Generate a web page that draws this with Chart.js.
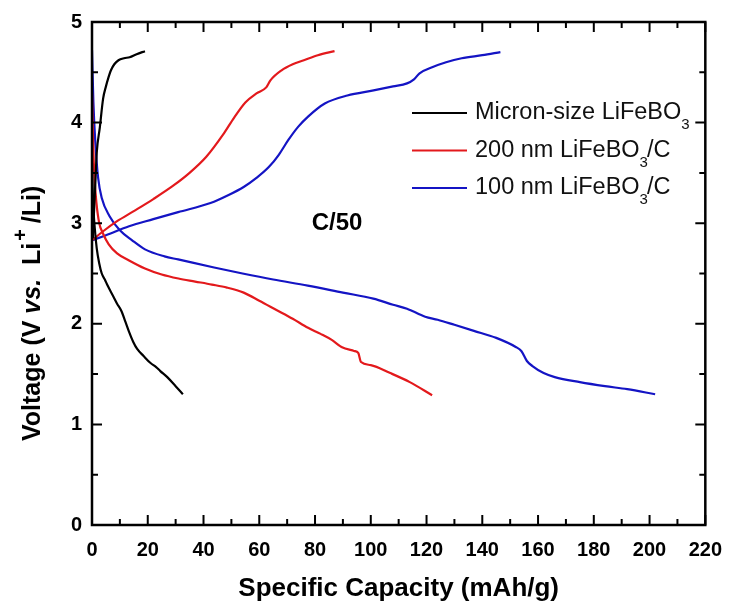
<!DOCTYPE html>
<html>
<head>
<meta charset="utf-8">
<title>LiFeBO3 charge / discharge</title>
<script src="https://cdn.jsdelivr.net/npm/chart.js@4.4.1/dist/chart.umd.min.js"></script>
<style>
  html, body { margin: 0; padding: 0; background: #fff; }
  #wrap { width: 735px; height: 604px; position: relative; }
</style>
</head>
<body>
<div id="wrap"><canvas id="cv"></canvas></div>
<script>
// ── Data: capacity (mAh/g) / voltage (V) ─────────────────────────
// Micron-size LiFeBO3
const micronChargeCap = [0.3, 0.7, 1.2, 1.7, 2.8, 4.0, 5.0, 5.7, 6.8, 8.0, 9.5, 11.5, 13.5, 16, 19];
const micronChargeV   = [2.85, 3.1, 3.4, 3.7, 3.95, 4.24, 4.36, 4.43, 4.52, 4.58, 4.62, 4.64, 4.65, 4.68, 4.71];
const micronDischCap  = [0, 0.4, 1.0, 1.7, 2.6, 3.5, 4.6, 5.6, 7.7, 9, 10.5, 12, 13.3, 14.8, 16.2, 18.5, 21, 23, 24.5, 27, 30, 32.6];
const micronDischV    = [3.6, 3.2, 2.95, 2.75, 2.6, 2.5, 2.44, 2.38, 2.27, 2.2, 2.13, 2.02, 1.92, 1.82, 1.75, 1.68, 1.61, 1.57, 1.53, 1.47, 1.38, 1.3];

// 200 nm LiFeBO3/C
const nm200ChargeCap = [0, 4, 9, 15, 22, 29, 35, 41, 47, 51, 55, 59, 62.5, 64, 68, 72, 76, 81, 87];
const nm200ChargeV   = [2.83, 2.92, 3.02, 3.12, 3.24, 3.37, 3.5, 3.66, 3.88, 4.05, 4.2, 4.29, 4.35, 4.42, 4.52, 4.58, 4.62, 4.67, 4.71];
const nm200DischCap  = [0, 0.4, 0.9, 1.6, 2.6, 3.9, 6, 9, 13.3, 19, 25, 31, 37, 43, 48.4, 54.4, 60, 66, 72, 77.5, 82, 86, 89.5, 94, 95.5, 96.5, 100, 107, 114, 122];
const nm200DischV    = [4.3, 3.8, 3.45, 3.2, 3.0, 2.9, 2.79, 2.7, 2.63, 2.55, 2.49, 2.45, 2.42, 2.39, 2.36, 2.31, 2.23, 2.14, 2.05, 1.96, 1.9, 1.84, 1.77, 1.73, 1.71, 1.62, 1.59, 1.51, 1.42, 1.29];

// 100 nm LiFeBO3/C
const nm100ChargeCap = [0, 5, 13.3, 22, 30.9, 42.5, 49, 54.4, 59, 63.5, 67, 70.5, 74, 77.5, 83.5, 91.6, 101, 108, 113, 115.5, 117.5, 122, 127, 132.6, 140, 146.5];
const nm100ChargeV   = [2.83, 2.88, 2.97, 3.04, 3.11, 3.2, 3.28, 3.36, 3.45, 3.56, 3.68, 3.83, 3.96, 4.06, 4.19, 4.27, 4.32, 4.36, 4.39, 4.43, 4.49, 4.55, 4.6, 4.64, 4.67, 4.7];
const nm100DischCap  = [0, 0.5, 1.2, 2.2, 3.5, 6.3, 10, 14.4, 19, 26, 30.9, 43.8, 54, 65, 77.4, 90, 100.9, 108, 113, 119.5, 124, 130, 137, 145, 152, 154, 156, 158, 162, 166, 175, 184, 192, 202];
const nm100DischV    = [4.72, 4.2, 3.8, 3.45, 3.25, 3.07, 2.93, 2.83, 2.74, 2.67, 2.64, 2.56, 2.5, 2.44, 2.38, 2.31, 2.25, 2.19, 2.15, 2.07, 2.04, 1.99, 1.93, 1.86, 1.77, 1.73, 1.63, 1.58, 1.51, 1.47, 1.42, 1.38, 1.35, 1.3];

// axis ticks
const xTicks = [0, 20, 40, 60, 80, 100, 120, 140, 160, 180, 200, 220];
const yTicks = [0, 1, 2, 3, 4, 5];

const SERIES = [
  { label: 'Micron-size LiFeBO', sub: '3', tail: '',   color: '#000000' },
  { label: '200 nm LiFeBO',      sub: '3', tail: '/C', color: '#e3191c' },
  { label: '100 nm LiFeBO',      sub: '3', tail: '/C', color: '#1414c4' },
];

const FONT = '"Liberation Sans", Arial, Helvetica, sans-serif';

function pts(xs, ys) { return xs.map((x, i) => ({ x: x, y: ys[i] })); }

function curve(xs, ys, color) {
  return {
    data: pts(xs, ys),
    borderColor: color,
    borderWidth: 2.2,
    pointRadius: 0,
    cubicInterpolationMode: 'monotone',
    fill: false,
  };
}

// ── Plugins ──────────────────────────────────────────────────────

// frame + inward major/minor ticks on all four sides
const frameTicks = {
  id: 'frameTicks',
  afterDraw(chart) {
    const { ctx, chartArea: a, scales } = chart;
    const sx = scales.x, sy = scales.y;
    ctx.save();
    ctx.strokeStyle = '#000';
    ctx.lineWidth = 2.5;
    ctx.strokeRect(a.left, a.top, a.right - a.left, a.bottom - a.top);
    ctx.lineWidth = 2;
    ctx.beginPath();
    for (let v = 0; v <= 220; v += 10) {
      const px = sx.getPixelForValue(v);
      const len = v % 20 === 0 ? 10 : 6;
      ctx.moveTo(px, a.bottom); ctx.lineTo(px, a.bottom - len);
      ctx.moveTo(px, a.top);    ctx.lineTo(px, a.top + len);
    }
    for (let v = 0; v <= 5; v += 0.5) {
      const py = sy.getPixelForValue(v);
      const len = Number.isInteger(v) ? 10 : 6;
      ctx.moveTo(a.left, py);  ctx.lineTo(a.left + len, py);
      ctx.moveTo(a.right, py); ctx.lineTo(a.right - len, py);
    }
    ctx.stroke();
    ctx.restore();
  }
};

// y title with italic "vs." and superscript "+", written upward from the bottom
const yTitle = {
  id: 'yTitle',
  afterDraw(chart) {
    const { ctx } = chart;
    const parts = [
      { t: 'Voltage (V ', f: 'bold 25px ' + FONT, dy: 0, gap: 0 },
      { t: 'vs.',         f: 'italic bold 25px ' + FONT, dy: 0, gap: 0 },
      { t: '  Li',        f: 'bold 25px ' + FONT, dy: 0, gap: 0 },
      { t: '+',           f: 'bold 20px ' + FONT, dy: -12, gap: 2 },
      { t: '/Li)',        f: 'bold 25px ' + FONT, dy: 0, gap: 6 },
    ];
    ctx.save();
    ctx.translate(33, 441);
    ctx.rotate(-Math.PI / 2);
    ctx.fillStyle = '#000';
    ctx.textBaseline = 'middle';
    let x = 0;
    parts.forEach(p => {
      x += p.gap;
      ctx.font = p.f;
      ctx.fillText(p.t, x, p.dy);
      x += ctx.measureText(p.t).width;
    });
    ctx.restore();
  }
};

// legend with subscripted formula, plus the rate label
const sideText = {
  id: 'sideText',
  afterDraw(chart) {
    const { ctx } = chart;
    ctx.save();
    ctx.textBaseline = 'middle';
    SERIES.forEach((s, i) => {
      const y = 113 + i * 37.5;
      ctx.strokeStyle = s.color;
      ctx.lineWidth = 2.2;
      ctx.beginPath(); ctx.moveTo(412, y); ctx.lineTo(467, y); ctx.stroke();
      ctx.fillStyle = '#111';
      ctx.font = '23.5px ' + FONT;
      let x = 475;
      ctx.fillText(s.label, x, y);
      x += ctx.measureText(s.label).width;
      ctx.font = '15px ' + FONT;
      ctx.fillText(s.sub, x, y + 12);
      x += ctx.measureText(s.sub).width - 1;
      ctx.font = '23.5px ' + FONT;
      if (s.tail) ctx.fillText(s.tail, x, y);
    });
    ctx.fillStyle = '#000';
    ctx.font = 'bold 24px ' + FONT;
    ctx.textAlign = 'center';
    ctx.fillText('C/50', 337, 223);
    ctx.restore();
  }
};

// ── Chart ────────────────────────────────────────────────────────
new Chart(document.getElementById('cv'), {
  type: 'line',
  data: {
    datasets: [
      curve(micronChargeCap, micronChargeV, SERIES[0].color),
      curve(micronDischCap, micronDischV, SERIES[0].color),
      curve(nm200ChargeCap, nm200ChargeV, SERIES[1].color),
      curve(nm200DischCap, nm200DischV, SERIES[1].color),
      curve(nm100ChargeCap, nm100ChargeV, SERIES[2].color),
      curve(nm100DischCap, nm100DischV, SERIES[2].color),
    ],
  },
  options: {
    responsive: true,
    maintainAspectRatio: false,
    animation: false,
    layout: { padding: { top: 22, right: 20, left: 0, bottom: 0 } },
    plugins: { legend: { display: false }, tooltip: { enabled: false } },
    scales: {
      x: {
        type: 'linear',
        min: 0, max: 220,
        afterBuildTicks: s => { s.ticks = xTicks.map(v => ({ value: v })); },
        afterFit: s => { s.height = 79; },
        grid: { display: false, drawTicks: false },
        border: { display: false },
        ticks: { color: '#000', padding: 13, maxRotation: 0, font: { family: FONT, size: 20, weight: 'bold' } },
        title: {
          display: true,
          text: 'Specific Capacity (mAh/g)',
          color: '#000',
          padding: { top: 8, bottom: 0 },
          font: { family: FONT, size: 26, weight: 'bold' },
        },
      },
      y: {
        type: 'linear',
        min: 0, max: 5,
        afterBuildTicks: s => { s.ticks = yTicks.map(v => ({ value: v })); },
        afterFit: s => { s.width = 92; },
        grid: { display: false, drawTicks: false },
        border: { display: false },
        ticks: { color: '#000', padding: 10, font: { family: FONT, size: 20, weight: 'bold' } },
      },
    },
  },
  plugins: [frameTicks, yTitle, sideText],
});
</script>
</body>
</html>
